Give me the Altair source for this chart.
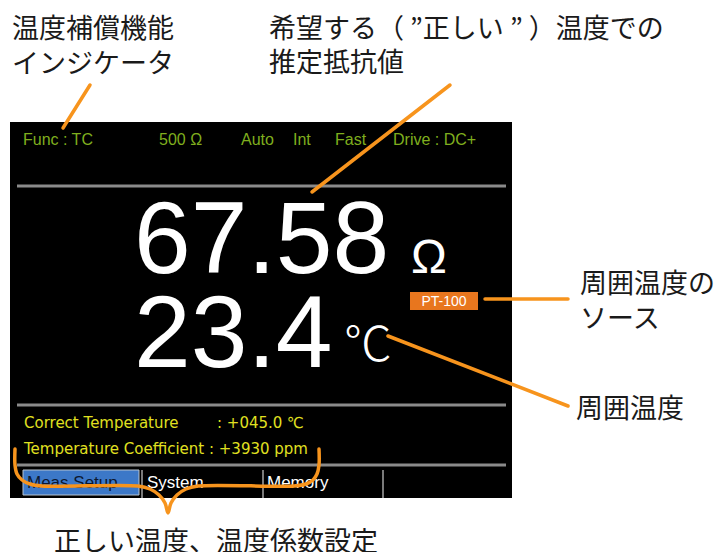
import altair as alt
import pandas as pd

# ---- values shown on the instrument display ----
resistance_value = "67.58"
resistance_unit = "Ω"
temperature_value = "23.4"
temperature_unit = "℃"
sensor_label = "PT-100"

status_labels = ["Func : TC", "500 Ω", "Auto", "Int", "Fast", "Drive : DC+"]
status_x = [23, 159, 241, 293, 335, 393]

setting_labels = ["Correct Temperature", ": +045.0 ℃", "Temperature Coefficient : +3930 ppm"]
setting_x = [24, 217, 24]
setting_y = [423, 423, 449]

menu_labels = ["Meas Setup", "System", "Memory"]
menu_x = [27, 147, 267]
menu_colors = ["#0c1830", "white", "white"]

# ---- callout annotations ----
callout_labels = ["温度補償機能", "インジケータ", "希望する（ ”正しい ” ）温度での", "推定抵抗値",
                  "周囲温度の", "ソース", "周囲温度", "正しい温度、温度係数設定"]
callout_x = [12, 12, 269, 269, 580, 580, 576, 54]
callout_y = [30, 65, 30, 64, 285, 320, 410, 543]

leader_x1 = [90, 450, 485, 388]
leader_y1 = [85, 85, 299, 336]
leader_x2 = [63, 312, 568, 568]
leader_y2 = [128, 192, 299, 406]

brace_x = [15, 15, 17, 22, 30, 42, 138, 150, 159, 165, 168,
           171, 177, 186, 198, 294, 306, 313, 317, 319, 319]
brace_y = [449, 465, 474, 480, 484, 486, 486, 489, 495, 503, 513,
           503, 495, 489, 486, 486, 484, 480, 474, 465, 449]

divider_y = [186, 405, 465]
separator_x = [142, 263, 383]

W, H = 706, 544
xs = alt.Scale(domain=[8, 8 + W], nice=False, zero=False)
ys = alt.Scale(domain=[8, 8 + H], nice=False, zero=False, reverse=True)


def X(f):
    return alt.X(f + ":Q", scale=xs, axis=None)


def Y(f):
    return alt.Y(f + ":Q", scale=ys, axis=None)


def rect(x1, x2, y1, y2, **kw):
    df = pd.DataFrame({"x": [x1], "x2": [x2], "y": [y1], "y2": [y2]})
    return alt.Chart(df).mark_rect(**kw).encode(x=X("x"), x2="x2:Q", y=Y("y"), y2="y2:Q")


def texts(labels, x, y, **kw):
    df = pd.DataFrame({"label": labels, "x": x, "y": y})
    return alt.Chart(df).mark_text(**kw).encode(x=X("x"), y=Y("y"), text="label:N")


screen = rect(10, 512, 122, 498, color="black")

dividers = alt.Chart(pd.DataFrame({"y": divider_y, "x": [17] * 3, "x2": [506] * 3})).mark_rule(
    color="#8a8a8a", strokeWidth=3
).encode(x=X("x"), x2="x2:Q", y=Y("y"))

separators = alt.Chart(pd.DataFrame({"x": separator_x, "y": [470] * 3, "y2": [498] * 3})).mark_rule(
    color="#7a7a7a", strokeWidth=2
).encode(x=X("x"), y=Y("y"), y2="y2:Q")

menu_box = rect(23, 139, 470, 495, color="#3c78c8", stroke="#b8c4d0", strokeWidth=1)

status = texts(status_labels, status_x, [140] * 6, align="left", baseline="middle",
               font="Liberation Sans", fontSize=16, color="#7fae1e")

settings = texts(setting_labels, setting_x, setting_y, align="left", baseline="middle",
                 font="DejaVu Sans", fontSize=15, color="#e0e020")

menu = alt.Chart(pd.DataFrame({"label": menu_labels, "x": menu_x, "y": [483] * 3, "c": menu_colors})).mark_text(
    align="left", baseline="middle", font="Liberation Sans", fontSize=17
).encode(x=X("x"), y=Y("y"), text="label:N", color=alt.Color("c:N", scale=None))

big = texts([resistance_value, temperature_value], [134, 134], [273, 367], align="left",
            baseline="alphabetic", font="Liberation Sans", fontSize=102, color="white")

ohm = texts([resistance_unit], [411], [273], align="left", baseline="alphabetic",
            font="Liberation Sans", fontSize=48, color="white")

degc = texts([temperature_unit], [344], [347], align="left", baseline="middle",
             font="Noto Sans CJK JP", fontSize=48, fontWeight=200, color="white")

badge = rect(410, 478, 292, 310, color="#e8761e")
badge_text = texts([sensor_label], [444], [301.5], align="center", baseline="middle",
                   font="Liberation Sans", fontSize=14, color="white")

leaders = alt.Chart(pd.DataFrame({"x": leader_x1, "y": leader_y1, "x2": leader_x2, "y2": leader_y2})).mark_rule(
    color="#f7941d", strokeWidth=3.5, strokeCap="round"
).encode(x=X("x"), y=Y("y"), x2="x2:Q", y2="y2:Q")

brace = alt.Chart(pd.DataFrame({"x": brace_x, "y": brace_y, "o": list(range(len(brace_x)))})).mark_line(
    color="#f7941d", strokeWidth=3.5, interpolate="catmull-rom", strokeCap="round"
).encode(x=X("x"), y=Y("y"), order="o:Q")

callouts = texts(callout_labels, callout_x, callout_y, align="left", baseline="middle",
                 font="Noto Sans CJK JP", fontSize=27, color="#1a1a1a")

chart = alt.layer(
    screen, dividers, separators, menu_box, status, settings, menu, big, ohm, degc,
    badge, badge_text, leaders, brace, callouts
).properties(
    width=W, height=H, padding=0, autosize=alt.AutoSizeParams(type="none"), background="white"
).configure_view(stroke=None)

chart.save("out.html", embed_options={"renderer": "svg", "actions": False})
